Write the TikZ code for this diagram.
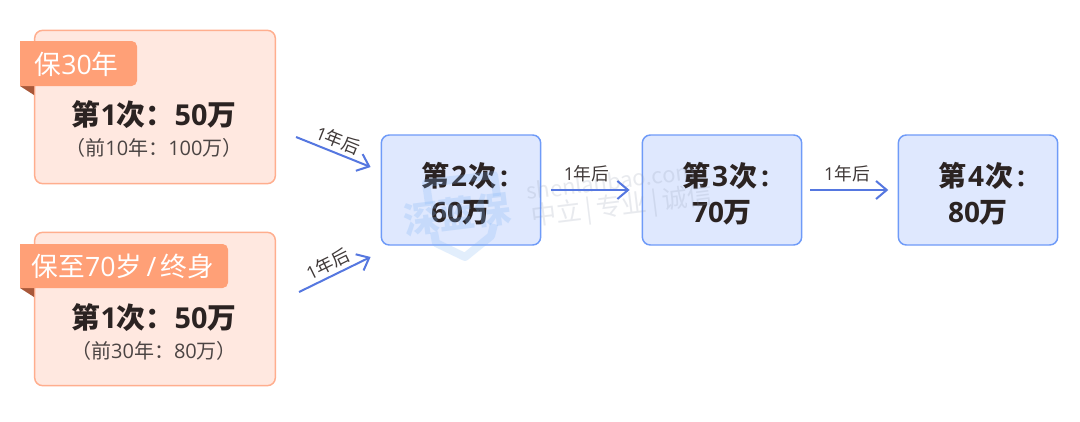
\documentclass[tikz,border=0pt]{standalone}
\usepackage{fontspec}
\setmainfont{Noto Sans CJK SC}
\newfontfamily\lat{Open Sans}
\newcommand{\dg}[1]{{\lat #1}}
\newcommand{\firstline}[2]{\rule{0pt}{23pt}\hspace*{6pt}第\hspace{0.8pt}\dg{#1}\hspace{0.8pt}次\hspace{3pt}\dg{:}\\\dg{#2}万}
\usetikzlibrary{arrows.meta}
\definecolor{pinkfill}{HTML}{FFE8E0}
\definecolor{pinkline}{HTML}{FFAE8E}
\definecolor{tagfill}{HTML}{FFA077}
\definecolor{foldc}{HTML}{A8583A}
\definecolor{bluefill}{HTML}{DFE8FE}
\definecolor{blueline}{HTML}{6F9BF8}
\definecolor{arrowc}{HTML}{5577E0}
\definecolor{inkc}{HTML}{2B2322}
\definecolor{wmc}{HTML}{8E98AE}
\definecolor{logoc}{HTML}{7FB4F5}
\tikzset{
  x=0.75pt,y=-0.75pt,
  pinkbox/.style={draw=pinkline,fill=pinkfill,line width=1.1pt,rounded corners=6pt,minimum width=180.5pt,minimum height=115pt,inner sep=0pt,anchor=center},
  bluebox/.style={draw=blueline,fill=bluefill,line width=1.1pt,rounded corners=6pt,minimum width=119.5pt,minimum height=82.5pt,inner sep=0pt,align=center,text=inkc,font=\fontsize{21}{27}\selectfont\bfseries,anchor=center},
  mainlabel/.style={text=inkc,font=\fontsize{21.6}{25}\selectfont\bfseries,inner sep=0pt},
  sublabel/.style={text=inkc!85,font=\fontsize{15}{18}\selectfont,inner sep=0pt},
  taglabel/.style={text=white,font=\fontsize{20}{24}\selectfont,inner sep=0pt},
  timelabel/.style={text=inkc!90,font=\fontsize{13.3}{16}\selectfont,inner sep=0pt},
  arrowline/.style={draw=arrowc,line width=1.5pt,-{Straight Barb[length=8pt,width=13.5pt,line width=1.5pt]}},
  tagshape/.style={fill=tagfill,rounded corners=0pt},
  foldshape/.style={fill=foldc},
  wmtext/.style={text=wmc,opacity=0.2,inner sep=0pt,rotate=7},
  logoline/.style={draw=logoc,opacity=0.22,line width=6pt,line join=round},
  logotext/.style={text=logoc,opacity=0.26,inner sep=0pt,rotate=7,font=\fontsize{27}{30}\selectfont\bfseries},
}
\begin{document}
\begin{tikzpicture}
\useasboundingbox (0,0) rectangle (1080,421);
\fill[white] (0,0) rectangle (1080,421);
% boxes
\node[pinkbox] (p1) at (155,107) {};
\node[pinkbox] (p2) at (155,309) {};
\node[bluebox] (b2) at (461,190) {\firstline{2}{60}};
\node[bluebox] (b3) at (722,190) {\firstline{3}{70}};
\node[bluebox] (b4) at (978,190) {\firstline{4}{80}};
% tags
\fill[foldshape] (20,86) -- (34,86) -- (34,95) -- cycle;
\fill[tagshape] (20,41) [rounded corners=4pt] -- (137,41) -- (137,86) [rounded corners=0pt] -- (20,86) -- cycle;
\node[taglabel] (t1) at (76.5,64) {保\dg{30}年};
\fill[foldshape] (20,288) -- (34,288) -- (34,297) -- cycle;
\fill[tagshape] (20,244) [rounded corners=4pt] -- (228,244) -- (228,288) [rounded corners=0pt] -- (20,288) -- cycle;
\node[taglabel] (t2) at (123,266) {保至\dg{70}岁\,\dg{/}\,终身};
% watermark
\draw[logoline] (429,204) -- (426,183) -- (494,175) -- (497,196);
\draw[logoline] (434,232) -- (436,243) -- (465,257) -- (491,236) -- (494,224);
\node[logotext] (w0) at (457,214) {深蓝保};
\node[wmtext,font=\fontsize{16.5}{20}\selectfont] (w1) at (611,181) {shenlanbao.com};
\node[wmtext,font=\fontsize{19}{23}\selectfont] (w2) at (622,207) {中立\,|\,专业\,|\,诚信};
% text
\node[mainlabel] (m1) at (154,115) {第\dg{1}次：\dg{50}万};
\node[sublabel] (s1) at (154,148) {（前\dg{10}年：\dg{100}万）};
\node[mainlabel] (m2) at (154,318) {第\dg{1}次：\dg{50}万};
\node[sublabel] (s2) at (154,351) {（前\dg{30}年：\dg{80}万）};
% connectors
\draw[arrowline] ([shift={(20,30)}]p1.east) -- node[timelabel,pos=0.5,above=2.5pt,sloped] (l1) {\dg{1}年后} ([shift={(-10,-23)}]b2.west);
\draw[arrowline] ([shift={(23,-17)}]p2.east) -- node[timelabel,pos=0.48,above=2.5pt,sloped] (l2) {\dg{1}年后} ([shift={(-10,67)}]b2.west);
\draw[arrowline] ([xshift=7.5pt]b2.east) -- node[timelabel,pos=0.45,above=5pt] (l3) {\dg{1}年后} ([xshift=-9pt]b3.west);
\draw[arrowline] ([xshift=6pt]b3.east) -- node[timelabel,pos=0.47,above=5pt] (l4) {\dg{1}年后} ([xshift=-7pt]b4.west);
\end{tikzpicture}
\end{document}
